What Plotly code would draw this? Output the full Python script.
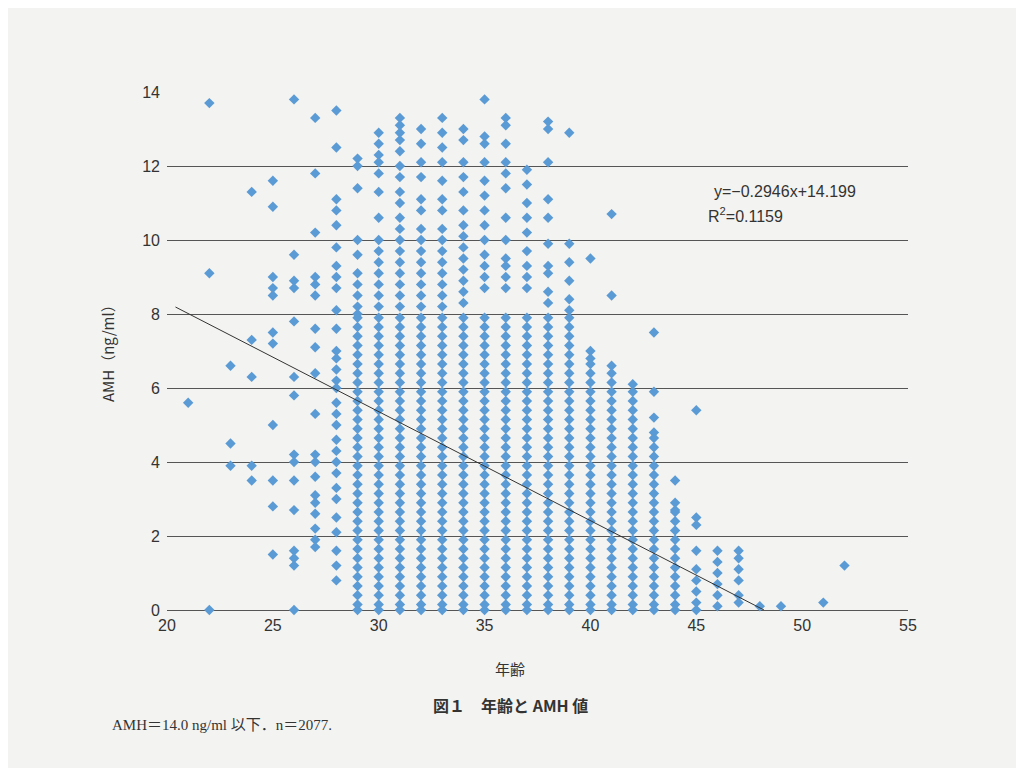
import plotly.graph_objects as go

# Dense lower part of the columns (read as a near-continuous stack)
DENSE = [7.9,7.65,7.4,7.15,6.9,6.65,6.4,6.15,5.9,5.65,5.4,5.15,4.9,4.65,4.4,4.15,3.9,3.65,3.4,3.15,2.9,
         2.65,2.4,2.15,1.9,1.65,1.4,1.15,0.9,0.65,0.4,0.15,0.0]

COLUMNS = {
    21: [5.6],
    22: [0.0, 13.7, 9.1],
    23: [6.6, 4.5, 3.9],
    24: [11.3, 7.3, 6.3, 3.9, 3.5],
    25: [11.6, 10.9, 9.0, 8.7, 8.5, 7.5, 7.2, 5.0, 3.5, 2.8, 1.5],
    26: [13.8, 9.6, 8.9, 8.7, 7.8, 6.3, 5.8, 4.2, 4.0, 3.5, 2.7, 1.6, 1.4, 1.2, 0.0],
    27: [13.3, 11.8, 10.2, 9.0, 8.8, 8.5, 7.6, 7.1, 6.4, 5.3, 4.2, 4.0, 3.6, 3.1, 2.9, 2.6, 2.2, 1.9, 1.7],
    28: [13.5, 12.5, 11.1, 10.8, 10.4, 9.8, 9.3, 9.0, 8.7, 8.1, 7.6, 7.0, 6.8, 6.5, 6.2, 6.0, 5.6, 5.3, 5.0,
         4.6, 4.3, 4.0, 3.7, 3.3, 3.0, 2.5, 2.1, 1.6, 1.2, 0.8],
    29: [12.2, 12.0, 11.4, 10.0, 9.6, 9.1, 8.8, 8.5, 8.2, 8.0],
    30: [12.9, 12.6, 12.3, 12.1, 11.8, 11.3, 10.6, 10.0, 9.7, 9.4, 9.1, 8.8, 8.5, 8.2],
    31: [13.3, 13.1, 12.9, 12.7, 12.4, 12.0, 11.7, 11.3, 11.0, 10.6, 10.3, 10.0, 9.7, 9.4, 9.1, 8.8, 8.5, 8.2],
    32: [13.0, 12.6, 12.1, 11.7, 11.1, 10.8, 10.3, 10.0, 9.7, 9.4, 9.1, 8.8, 8.5, 8.2],
    33: [13.3, 12.9, 12.5, 12.1, 11.6, 11.1, 10.8, 10.3, 10.0, 9.7, 9.4, 9.1, 8.8, 8.5, 8.2],
    34: [13.0, 12.7, 12.1, 11.7, 11.3, 10.8, 10.4, 10.1, 9.8, 9.5, 9.2, 8.9, 8.6, 8.3],
    35: [13.8, 12.8, 12.6, 12.1, 11.6, 11.2, 10.8, 10.4, 10.0, 9.6, 9.3, 9.0, 8.7],
    36: [13.3, 13.1, 12.6, 12.1, 11.8, 11.4, 10.6, 10.0, 9.5, 9.3, 9.0, 8.7],
    37: [11.9, 11.5, 11.0, 10.6, 10.2, 9.7, 9.3, 9.0, 8.7],
    38: [13.2, 13.0, 12.1, 11.1, 10.6, 9.9, 9.3, 9.1, 8.6, 8.3],
    39: [12.9, 9.9, 9.4, 8.9, 8.4, 8.1],
    40: [9.5, 7.0, 6.8],
    41: [10.7, 8.5, 6.6],
    42: [6.1],
    43: [7.5, 5.9, 5.2, 4.8],
    44: [3.5, 2.9, 2.7],
    45: [5.4, 2.5, 2.3, 1.6, 1.1, 0.8, 0.5, 0.2, 0.0],
    46: [1.6, 1.3, 1.0, 0.7, 0.4, 0.1],
    47: [1.6, 1.4, 1.1, 0.8, 0.4, 0.2],
    48: [0.1],
    49: [0.1],
    51: [0.2],
    52: [1.2],
}
DENSE_AGES = list(range(29, 45))

SLOPE = -0.2946
INTERCEPT = 14.199
LINE_X = [20.4, 48.2]

xs, ys = [], []
for age, top in COLUMNS.items():
    vals = list(top)
    if age in DENSE_AGES:
        vals += [v for v in DENSE if v < min(top)]
    xs += [age] * len(vals)
    ys += vals

L, R, T, B = 159, 124, 84, 166
W, H = 1024, 768

fig = go.Figure()
fig.add_trace(go.Scatter(x=xs, y=ys, mode="markers",
                         marker=dict(symbol="diamond", size=8, color="#5b9bd5"),
                         cliponaxis=False, showlegend=False))
fig.add_trace(go.Scatter(x=LINE_X, y=[SLOPE * x + INTERCEPT for x in LINE_X], mode="lines",
                         line=dict(color="#333", width=1), showlegend=False))

anns = [
    ("y=−0.2946x+14.199", 785, 192, 0, 16, "Liberation Sans", "center"),
    ("R<sup>2</sup>=0.1159", 745, 215, 0, 16, "Liberation Sans", "center"),
    ("AMH（ng/ml）", 107, 350, -90, 15, "Noto Sans CJK JP", "center"),
    ("年齢", 510, 668, 0, 15, "Noto Sans CJK JP", "center"),
    ("<b>図１　年齢と AMH 値</b>", 510, 705, 0, 16, "Noto Sans CJK JP", "center"),
    ("AMH＝14.0 ng/ml 以下．n＝2077.", 110, 725, 0, 15, "Liberation Serif, Noto Sans CJK JP", "left"),
]
annotations = []
for text, px, py, ang, size, fam, xa in anns:
    annotations.append(dict(text=text, xref="paper", yref="paper", showarrow=False, textangle=ang,
                            x=(px - 8 - L) / (W - L - R), y=(H - (py - 8) - B) / (H - T - B),
                            xanchor=xa, yanchor="middle", font=dict(size=size, family=fam)))

fig.update_layout(
    width=W, height=H, paper_bgcolor="#f3f3f1", plot_bgcolor="#f3f3f1",
    margin=dict(l=L, r=R, t=T, b=B),
    font=dict(family="Liberation Sans", color="#333", size=16),
    xaxis=dict(range=[20, 55], tickvals=[20, 25, 30, 35, 40, 45, 50, 55], showgrid=False,
               zeroline=False, showline=False, ticks="", ticklabelstandoff=4),
    yaxis=dict(range=[0, 14], tickvals=list(range(0, 15, 2)), showgrid=True,
               gridcolor="#555", gridwidth=1, zeroline=True, zerolinecolor="#555", zerolinewidth=1,
               showline=False, ticks="", ticklabelstandoff=6),
    annotations=annotations,
)
fig.write_html("out.html")
